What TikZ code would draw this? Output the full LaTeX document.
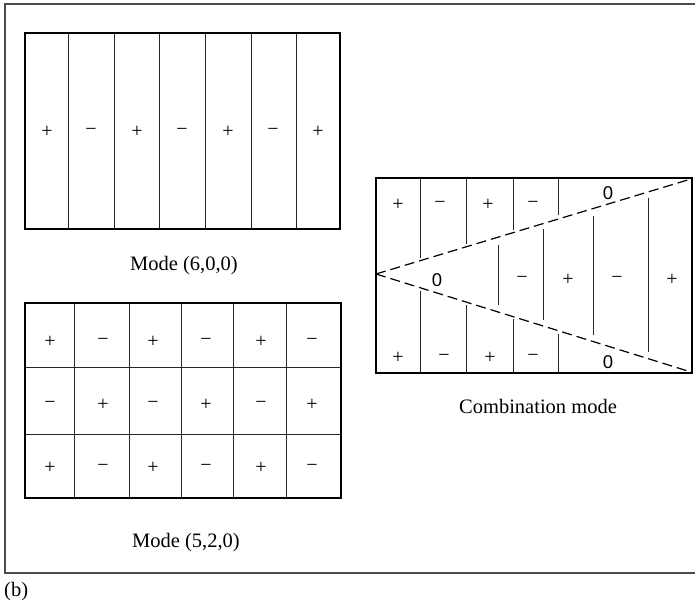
\documentclass[tikz,border=0pt]{standalone}
\usepackage{fontspec}
\setmainfont{Liberation Serif}
\newfontfamily\zerofont{Liberation Sans}
\begin{document}
\begin{tikzpicture}[x=1pt,y=-1pt,
  frameline/.style={draw=black!70,line width=1.6pt},
  boxline/.style={draw=black,line width=2pt},
  cellline/.style={draw=black!85,line width=1pt},
  dashline/.style={draw=black,line width=1.2pt,dash pattern=on 10pt off 5pt},
  sign/.style={inner sep=0pt,font=\fontsize{20}{20}\selectfont},
  zero/.style={inner sep=0pt,font=\zerofont\fontsize{18.5}{18}\selectfont},
  caption/.style={inner sep=0pt,font=\fontsize{20.5}{21}\selectfont}]
\useasboundingbox (0,0) rectangle (695,604);
\fill[white] (0,0) rectangle (695,604);
% outer frame (right side lies beyond the picture)
\draw[frameline] (695,4) -- (5,4) -- (5,573) -- (695,573);
\node[caption,anchor=west] (blabel) at (4,592) {(b)};

% ---------- Mode (6,0,0)
\foreach \x in {68,114,159,205,251,296} \draw[cellline] (\x,33) -- (\x,229);
\draw[boxline] (25,33) rectangle (340,229);
\foreach \x/\s [count=\i] in {47/+,91/−,137/+,182/−,228/+,273/−,318/+}
  \node[sign] (a\i) at (\x,132) {\s};
\node[caption] (capA) at (184,266) {Mode (6,0,0)};

% ---------- Mode (5,2,0)
\foreach \x in {74,129,181,233,286} \draw[cellline] (\x,303) -- (\x,498);
\foreach \y in {367,434} \draw[cellline] (25,\y) -- (341,\y);
\draw[boxline] (25,303) rectangle (341,498);
\foreach \x/\s [count=\i] in {50/+,103/−,153/+,206/−,261/+,312/−}
  \node[sign] (b1\i) at (\x,342) {\s};
\foreach \x/\s [count=\i] in {50/−,103/+,153/−,206/+,261/−,312/+}
  \node[sign] (b2\i) at (\x,405) {\s};
\foreach \x/\s [count=\i] in {50/+,103/−,153/+,206/−,261/+,312/−}
  \node[sign] (b3\i) at (\x,468) {\s};
\node[caption] (capB) at (186,543) {Mode (5,2,0)};

% ---------- Combination mode
\coordinate (apex) at (376,274);
\coordinate (tr) at (691,179);
\coordinate (br) at (691,372);
\draw[cellline] (420,178) -- (420,258);
\draw[cellline] (466,178) -- (466,244);
\draw[cellline] (513,178) -- (513,230);
\draw[cellline] (558,178) -- (558,215);
\draw[cellline] (420,291) -- (420,373);
\draw[cellline] (466,305) -- (466,373);
\draw[cellline] (513,319) -- (513,373);
\draw[cellline] (558,334) -- (558,373);
\draw[cellline] (498,245) -- (498,305);
\draw[cellline] (543,229) -- (543,320);
\draw[cellline] (593,216) -- (593,335);
\draw[cellline] (648,198) -- (648,352);
\draw[dashline] (apex) -- (tr);
\draw[dashline] (apex) -- (br);
\draw[boxline] (376,178) rectangle (692,373);
\foreach \x/\s [count=\i] in {398/+,440/−,488/+,533/−}
  \node[sign] (c1\i) at (\x,205) {\s};
\foreach \x/\s [count=\i] in {398/+,444/−,490/+,533/−}
  \node[sign] (c3\i) at (\x,358) {\s};
\foreach \x/\s [count=\i] in {522/−,568/+,617/−,672/+}
  \node[sign] (c2\i) at (\x,280) {\s};
\node[zero] (z1) at (608,193) {0};
\node[zero] (z2) at (437,280) {0};
\node[zero] (z3) at (608,362) {0};
\node[caption] (capC) at (538,406) {Combination mode};
\end{tikzpicture}
\end{document}
